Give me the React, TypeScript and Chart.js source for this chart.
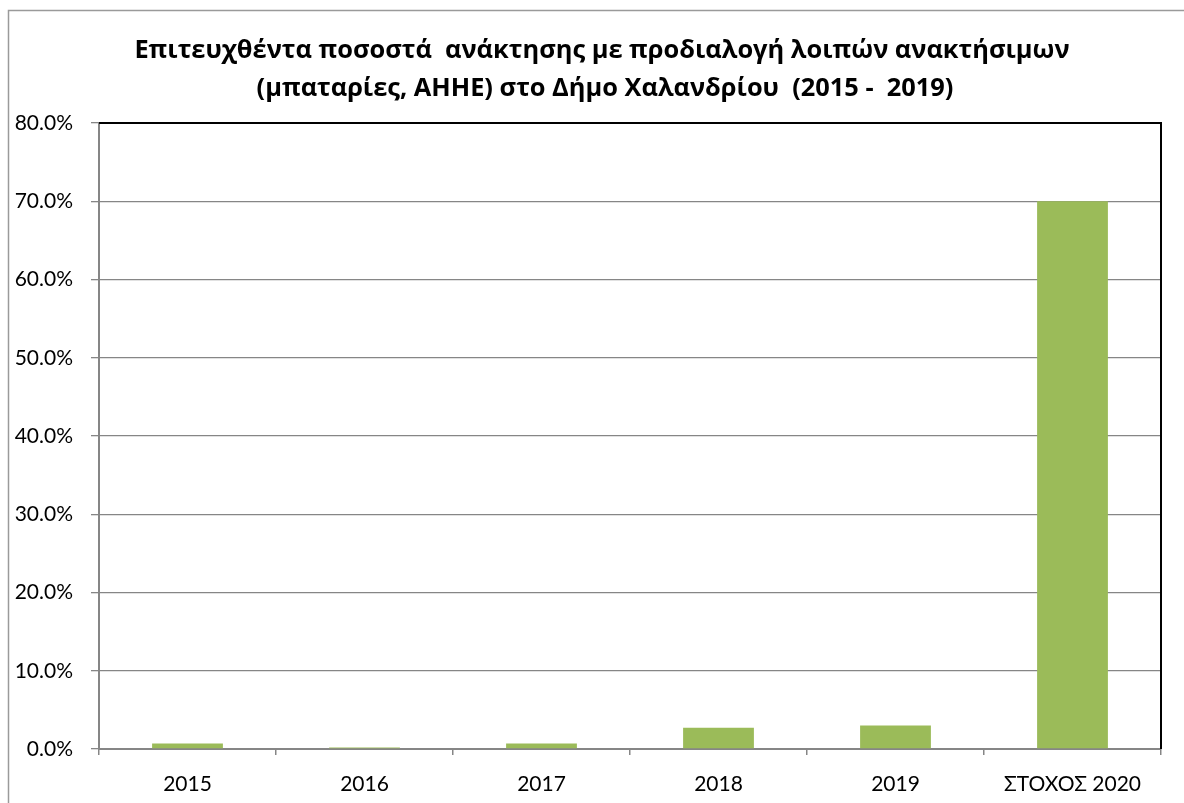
import React, { useEffect, useRef } from "react";
import { Chart, registerables } from "chart.js";

Chart.register(...registerables);

const categories = ["2015", "2016", "2017", "2018", "2019", "ΣΤΟΧΟΣ 2020"];
const recoveryRates = [0.7, 0.2, 0.7, 2.7, 3.0, 70.0];
const titleLines = [
  "Επιτευχθέντα ποσοστά  ανάκτησης με προδιαλογή λοιπών ανακτήσιμων",
  "(μπαταρίες, ΑΗΗΕ) στο Δήμο Χαλανδρίου  (2015 -  2019)",
];
const yTickMax = 80;
const yTickStep = 10;

const FONT = "Lato, 'Open Sans', sans-serif";
const TITLE_FONT = "'Open Sans', Lato, sans-serif";

export default function App() {
  const ref = useRef<HTMLCanvasElement | null>(null);

  useEffect(() => {
    if (!ref.current) return;
    const framePlugin = {
      id: "frameAndTitle",
      beforeDraw(chart: any) {
        const ctx = chart.ctx;
        ctx.save();
        ctx.fillStyle = "#ffffff";
        ctx.fillRect(0, 0, chart.width, chart.height);
        ctx.strokeStyle = "#9a9a9a";
        ctx.lineWidth = 1.5;
        ctx.beginPath();
        ctx.moveTo(8.5, chart.height);
        ctx.lineTo(8.5, 10.5);
        ctx.lineTo(chart.width, 10.5);
        ctx.stroke();
        ctx.fillStyle = "#000000";
        ctx.font = `bold 25.4px ${TITLE_FONT}`;
        ctx.textAlign = "center";
        ctx.textBaseline = "middle";
        ctx.fillText(titleLines[0], 602, 51);
        ctx.fillText(titleLines[1], 605, 89);
        ctx.restore();
      },
      afterDraw(chart: any) {
        const { ctx, chartArea } = chart;
        ctx.save();
        ctx.strokeStyle = "#000000";
        ctx.lineWidth = 2;
        ctx.beginPath();
        ctx.moveTo(chartArea.left, chartArea.top);
        ctx.lineTo(chartArea.right, chartArea.top);
        ctx.lineTo(chartArea.right, chartArea.bottom);
        ctx.stroke();
        ctx.restore();
      },
    };

    const chart = new Chart(ref.current, {
      type: "bar",
      data: {
        labels: categories,
        datasets: [
          {
            data: recoveryRates,
            backgroundColor: "#9BBB59",
            borderWidth: 0,
            barPercentage: 0.4,
            categoryPercentage: 1,
          },
        ],
      },
      options: {
        responsive: false,
        animation: false,
        layout: { padding: { top: 123, right: 23, left: 0, bottom: 0 } },
        plugins: {
          legend: { display: false },
          title: { display: false },
          tooltip: { enabled: false },
        },
        scales: {
          x: {
            afterFit(scale: any) {
              scale.height = 54;
            },
            grid: {
              drawOnChartArea: false,
              drawTicks: true,
              tickLength: 6,
              color: "#868686",
              lineWidth: 1.5,
            },
            border: { color: "#868686", width: 2 },
            ticks: {
              color: "#000000",
              font: { family: FONT, size: 21 },
              padding: 17,
              maxRotation: 0,
              autoSkip: false,
            },
          },
          y: {
            min: 0,
            max: yTickMax,
            afterFit(scale: any) {
              scale.width = 99;
            },
            grid: {
              color: "#868686",
              lineWidth: 1.3,
              tickLength: 8,
              drawTicks: true,
            },
            border: { color: "#868686", width: 2 },
            ticks: {
              stepSize: yTickStep,
              color: "#000000",
              font: { family: FONT, size: 21 },
              padding: 18,
              callback: (v: any) => Number(v).toFixed(1) + "%",
            },
          },
        },
      },
      plugins: [framePlugin],
    });
    return () => chart.destroy();
  }, []);

  return (
    <div style={{ position: "absolute", left: 0, top: 0, width: 1184, height: 803 }}>
      <canvas ref={ref} width={1184} height={803} />
    </div>
  );
}
